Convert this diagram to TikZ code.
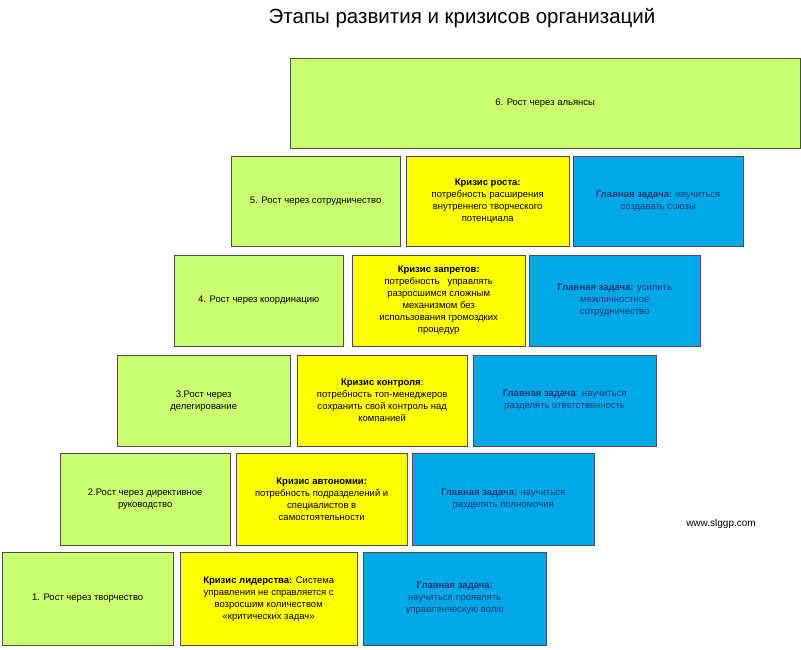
\documentclass[tikz,border=0pt]{standalone}
\usepackage{fontspec}
\setmainfont{Liberation Sans}
\definecolor{stagegreen}{HTML}{CCFF70}
\definecolor{crisisyellow}{HTML}{FFFF00}
\definecolor{taskblue}{HTML}{00A8E8}
\definecolor{tasktext}{HTML}{1F3A70}
\begin{document}
\begin{tikzpicture}[x=1pt,y=-1pt,
  box/.style={draw=black!70,anchor=north west,inner sep=1pt,align=center,font=\fontsize{9.5}{12}\selectfont},
  stage/.style={box,fill=stagegreen},
  crisis/.style={box,fill=crisisyellow},
  task/.style={box,fill=taskblue,text=tasktext}]
  \useasboundingbox (0,0) rectangle (801,649);

  \node (title) at (462,18) {\fontsize{20.5}{24}\selectfont Этапы развития и кризисов организаций};

  % stage 6
  \node[stage,minimum width=510,minimum height=90] (s6) at (290,58) {6. Рост через альянсы};

  % stage 5
  \node[stage,minimum width=169,minimum height=90] (s5) at (231,156) {5. Рост через сотрудничество};
  \node[crisis,minimum width=163,minimum height=90] (c5) at (406,156)
    {\textbf{Кризис роста:}\\потребность расширения\\внутреннего творческого\\потенциала};
  \node[task,minimum width=170,minimum height=90] (t5) at (573,156)
    {\textbf{Главная задача:} научиться\\создавать союзы};

  % stage 4
  \node[stage,minimum width=169,minimum height=91] (s4) at (174,255) {4. Рост через координацию};
  \node[crisis,minimum width=173,minimum height=91] (c4) at (352,255)
    {\textbf{Кризис запретов:}\\потребность \ \ управлять\\разросшимся сложным\\механизмом без\\использования громоздких\\процедур};
  \node[task,minimum width=171,minimum height=91] (t4) at (529,255)
    {\textbf{Главная задача:} усилить\\межличностное\\сотрудничество};

  % stage 3
  \node[stage,minimum width=173,minimum height=91] (s3) at (117,355) {3.Рост через\\делегирование};
  \node[crisis,minimum width=170,minimum height=91] (c3) at (297,355)
    {\textbf{Кризис контроля}:\\потребность топ-менеджеров\\сохранить свой контроль над\\компанией};
  \node[task,minimum width=183,minimum height=91] (t3) at (473,355)
    {\textbf{Главная задача}: научиться\\разделять ответственность};

  % stage 2
  \node[stage,minimum width=170,minimum height=92] (s2) at (60,453) {2.Рост через директивное\\руководство};
  \node[crisis,minimum width=171,minimum height=92] (c2) at (236,453)
    {\textbf{Кризис автономии:}\\потребность подразделений и\\специалистов в\\самостоятельности};
  \node[task,minimum width=182,minimum height=92] (t2) at (412,453)
    {\textbf{Главная задача:} научиться\\разделять полномочия};

  % stage 1
  \node[stage,minimum width=171,minimum height=93] (s1) at (2,552) {1. Рост через творчество};
  \node[crisis,minimum width=177,minimum height=93] (c1) at (180,552)
    {\textbf{Кризис лидерства:} Система\\управления не справляется с\\возросшим количеством\\«критических задач»};
  \node[task,minimum width=183,minimum height=93] (t1) at (363,552)
    {\textbf{Главная задача:}\\научиться проявлять\\управленческую волю};

  \node[font=\fontsize{10}{12}\selectfont] (site) at (721,524) {www.slggp.com};
\end{tikzpicture}
\end{document}
